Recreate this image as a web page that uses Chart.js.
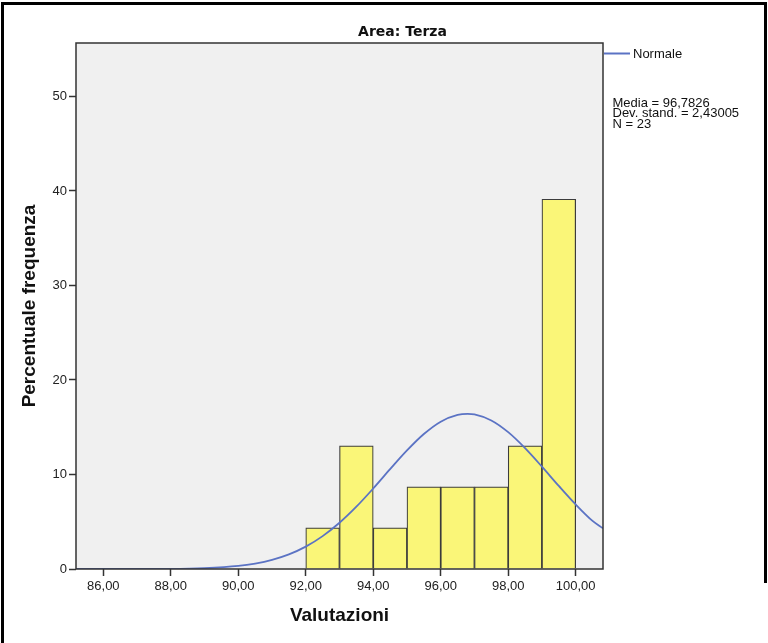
<!DOCTYPE html>
<html>
<head>
<meta charset="utf-8">
<script src="https://cdn.jsdelivr.net/npm/chart.js@4/dist/chart.umd.min.js"></script>
<style>
  body { margin: 0; background: #ffffff; }
  #wrap { width: 768px; height: 643px; }
</style>
</head>
<body>
<div id="wrap"><canvas id="hist" width="768" height="643"></canvas></div>
<script>
// bins of the histogram (centre of each 1-wide bin) and percent frequency
var binCenters = [92.5, 93.5, 94.5, 95.5, 96.5, 97.5, 98.5, 99.5];
var percents = [4.35, 13.04, 4.35, 8.70, 8.70, 8.70, 13.04, 39.13];

// normal curve points
var curveX = [85.19, 86, 87, 88, 89, 90, 90.5, 91, 91.5, 92, 92.5, 93, 93.5, 94, 94.5, 95, 95.5, 96, 96.5, 96.8, 97, 97.5, 98, 98.5, 99, 99.5, 100, 100.5, 100.81];
var curveY = [0, 0, 0.01, 0.02, 0.1, 0.33, 0.58, 0.97, 1.55, 2.37, 3.48, 4.89, 6.59, 8.52, 10.56, 12.54, 14.28, 15.59, 16.31, 16.42, 16.35, 15.72, 14.48, 12.79, 10.83, 8.79, 6.83, 5.09, 4.3];

var xTicks = [86, 88, 90, 92, 94, 96, 98, 100];
var yTicks = [0, 10, 20, 30, 40, 50];

var chartTitle = "Area: Terza";
var legendLabel = "Normale";
var statsLines = ["Media = 96,7826", "Dev. stand. = 2,43005", "N = 23"];

var lineColor = "#5b73c4";

var barPoints = [];
for (var i = 0; i < binCenters.length; i++) {
    barPoints.push({ x: binCenters[i], y: percents[i] });
}
var curvePoints = [];
for (var j = 0; j < curveX.length; j++) {
    curvePoints.push({ x: curveX[j], y: curveY[j] });
}

// background, frame and the side texts
var decorPlugin = {
    id: "decor",
    beforeDatasetsDraw: function(chart) {
        var ctx = chart.ctx, a = chart.chartArea;
        ctx.save();
        ctx.fillStyle = "#f0f0f0";
        ctx.fillRect(a.left, a.top, a.right - a.left, a.bottom - a.top);
        ctx.restore();
    },
    afterDatasetsDraw: function(chart) {
        var ctx = chart.ctx, a = chart.chartArea;
        ctx.save();
        ctx.strokeStyle = "#333333";
        ctx.lineWidth = 1.5;
        ctx.strokeRect(a.left, a.top, a.right - a.left, a.bottom - a.top);
        ctx.restore();
    },
    afterDraw: function(chart) {
        var ctx = chart.ctx;
        ctx.save();
        // outer frame
        ctx.fillStyle = "#000000";
        ctx.fillRect(1, 2, 3, 641);
        ctx.fillRect(1, 2, 766, 3);
        ctx.fillRect(764, 2, 3, 581);

        ctx.fillStyle = "#111111";
        ctx.textAlign = "center";
        ctx.textBaseline = "alphabetic";
        ctx.font = "bold 14px 'DejaVu Sans'";
        ctx.fillText(chartTitle, 402.5, 35.5);

        ctx.strokeStyle = lineColor;
        ctx.lineWidth = 2;
        ctx.beginPath();
        ctx.moveTo(604, 53.5);
        ctx.lineTo(630, 53.5);
        ctx.stroke();

        ctx.textAlign = "left";
        ctx.font = "13px 'Liberation Sans'";
        ctx.fillText(legendLabel, 633, 58);
        for (var k = 0; k < statsLines.length; k++) {
            ctx.fillText(statsLines[k], 612.5, 106.5 + k * 10.8);
        }
        ctx.restore();
    }
};

new Chart(document.getElementById("hist"), {
    data: {
        datasets: [
            {
                type: "line",
                label: legendLabel,
                data: curvePoints,
                borderColor: lineColor,
                borderWidth: 1.8,
                pointRadius: 0,
                fill: false,
                cubicInterpolationMode: "monotone",
                order: 0
            },
            {
                type: "bar",
                label: "Percentuale",
                data: barPoints,
                backgroundColor: "#faf678",
                borderColor: "#3c3c3c",
                borderWidth: 1.2,
                barPercentage: 1,
                categoryPercentage: 1,
                order: 1
            }
        ]
    },
    options: {
        responsive: false,
        animation: false,
        layout: { padding: { left: 10, top: 43, right: 165, bottom: 0 } },
        plugins: {
            legend: { display: false },
            title: { display: false },
            tooltip: { enabled: false }
        },
        scales: {
            x: {
                type: "linear",
                offset: false,
                min: 85.19,
                max: 100.81,
                afterBuildTicks: function(scale) {
                    scale.ticks = xTicks.map(function(v) { return { value: v }; });
                },
                afterFit: function(scale) { scale.height = 74; },
                ticks: {
                    color: "#222222",
                    font: { family: "'Liberation Sans'", size: 13 },
                    padding: 3,
                    maxRotation: 0,
                    callback: function(v) { return v.toFixed(2).replace(".", ","); }
                },
                grid: { offset: false, drawOnChartArea: false, drawTicks: true, tickLength: 7, tickColor: "#333333", tickWidth: 1.5 },
                border: { display: false },
                title: {
                    display: true,
                    text: "Valutazioni",
                    color: "#111111",
                    font: { family: "'Liberation Sans'", size: 19, weight: "bold" },
                    padding: { top: 0, bottom: 15.6 }
                }
            },
            y: {
                min: 0,
                max: 55.66,
                afterBuildTicks: function(scale) {
                    scale.ticks = yTicks.map(function(v) { return { value: v }; });
                },
                afterFit: function(scale) { scale.width = 66; },
                ticks: {
                    color: "#222222",
                    font: { family: "'Liberation Sans'", size: 13 },
                    padding: 2
                },
                grid: { drawOnChartArea: false, drawTicks: true, tickLength: 7, tickColor: "#333333", tickWidth: 1.5 },
                border: { display: false },
                title: {
                    display: true,
                    text: "Percentuale frequenza",
                    color: "#111111",
                    font: { family: "'Liberation Sans'", size: 19, weight: "bold" },
                    padding: { top: 8.6, bottom: 0 }
                }
            }
        }
    },
    plugins: [decorPlugin]
});
</script>
</body>
</html>
